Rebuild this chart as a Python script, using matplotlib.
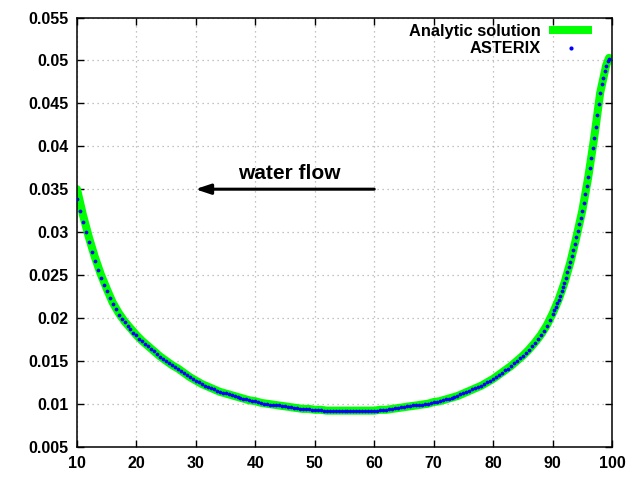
import numpy as np
import matplotlib
matplotlib.use("Agg")
import matplotlib.pyplot as plt

plt.rcParams['font.family'] = ['Liberation Sans', 'DejaVu Sans']
plt.rcParams['font.weight'] = 'bold'

# analytic solution at integer x (+ end point)
analytic_x = list(range(10, 100)) + [99.5]
analytic_y = [
    0.0350, 0.0320, 0.0294, 0.0271, 0.0251, 0.0234, 0.0218, 0.0206, 0.0196, 0.0188,  # 10-19
    0.0180, 0.0173, 0.0167, 0.0161, 0.0155, 0.0150, 0.0145, 0.0141, 0.0136, 0.0131,  # 20-29
    0.0127, 0.0123, 0.0120, 0.0117, 0.0114, 0.0112, 0.0110, 0.0108, 0.0106, 0.0104,  # 30-39
    0.0103, 0.0101, 0.0100, 0.0099, 0.0098, 0.0097, 0.0096, 0.0095, 0.0094, 0.0094,  # 40-49
    0.0093, 0.0093, 0.0092, 0.0092, 0.0092, 0.0092, 0.0092, 0.0092, 0.0092, 0.0092,  # 50-59
    0.0092, 0.0093, 0.0093, 0.0094, 0.0095, 0.0096, 0.0097, 0.0098, 0.0099, 0.0100,  # 60-69
    0.0102, 0.0103, 0.0105, 0.0107, 0.0109, 0.0112, 0.0115, 0.0118, 0.0121, 0.0125,  # 70-79
    0.0129, 0.0134, 0.0139, 0.0144, 0.0150, 0.0156, 0.0163, 0.0171, 0.0180, 0.0191,  # 80-89
    0.0205, 0.0221, 0.0241, 0.0265, 0.0294, 0.0325, 0.0364, 0.0410, 0.0462, 0.0494,  # 90-99
    0.0503,
]

# ASTERIX points: every 0.5 from 10 to 89.5, then every 0.25 from 90 to 99.5
asterix_y_coarse = [
    0.0338, 0.0325, 0.0312, 0.0300, 0.0288, 0.0277, 0.0266, 0.0256, 0.0247, 0.0238,  # 10-14.5
    0.0231, 0.0223, 0.0216, 0.0210, 0.0204, 0.0199, 0.0195, 0.0191, 0.0187, 0.0183,  # 15-19.5
    0.0180, 0.0176, 0.0173, 0.0170, 0.0167, 0.0164, 0.0161, 0.0158, 0.0155, 0.0152,  # 20-24.5
    0.0150, 0.0147, 0.0145, 0.0143, 0.0141, 0.0138, 0.0136, 0.0133, 0.0131, 0.0129,  # 25-29.5
    0.0127, 0.0125, 0.0123, 0.0121, 0.0120, 0.0118, 0.0117, 0.0115, 0.0114, 0.0113,  # 30-34.5
    0.0112, 0.0111, 0.0110, 0.0109, 0.0108, 0.0107, 0.0106, 0.0105, 0.0104, 0.0103,  # 35-39.5
    0.0103, 0.0102, 0.0101, 0.0100, 0.0100, 0.0099, 0.0099, 0.0098, 0.0098, 0.0097,  # 40-44.5
    0.0097, 0.0096, 0.0096, 0.0095, 0.0095, 0.0094, 0.0094, 0.0094, 0.0094, 0.0093,  # 45-49.5
    0.0093, 0.0093, 0.0093, 0.0092, 0.0092, 0.0092, 0.0092, 0.0092, 0.0092, 0.0092,  # 50-54.5
    0.0092, 0.0092, 0.0092, 0.0092, 0.0092, 0.0092, 0.0092, 0.0092, 0.0092, 0.0092,  # 55-59.5
    0.0092, 0.0092, 0.0093, 0.0093, 0.0093, 0.0094, 0.0094, 0.0095, 0.0095, 0.0096,  # 60-64.5
    0.0096, 0.0097, 0.0097, 0.0098, 0.0098, 0.0099, 0.0099, 0.0100, 0.0100, 0.0101,  # 65-69.5
    0.0102, 0.0102, 0.0103, 0.0104, 0.0105, 0.0106, 0.0107, 0.0108, 0.0109, 0.0111,  # 70-74.5
    0.0112, 0.0114, 0.0115, 0.0117, 0.0118, 0.0120, 0.0121, 0.0123, 0.0125, 0.0127,  # 75-79.5
    0.0129, 0.0131, 0.0134, 0.0136, 0.0139, 0.0141, 0.0144, 0.0147, 0.0150, 0.0153,  # 80-84.5
    0.0156, 0.0159, 0.0163, 0.0167, 0.0171, 0.0175, 0.0180, 0.0185, 0.0191, 0.0198,  # 85-89.5
]
asterix_y_fine = [
    0.0205, 0.0209, 0.0213, 0.0217, 0.0221, 0.0226, 0.0231, 0.0236,  # 90-91.75
    0.0241, 0.0247, 0.0253, 0.0259, 0.0265, 0.0272, 0.0279, 0.0286,  # 92-93.75
    0.0294, 0.0301, 0.0309, 0.0317, 0.0325, 0.0334, 0.0344, 0.0354,  # 94-95.75
    0.0364, 0.0375, 0.0386, 0.0398, 0.0410, 0.0423, 0.0436, 0.0449,  # 96-97.75
    0.0462, 0.0472, 0.0480, 0.0488, 0.0494, 0.0499, 0.0502,          # 98-99.5
]
asterix_x = np.concatenate([np.arange(10, 90, 0.5), np.arange(90, 99.51, 0.25)])
asterix_y = asterix_y_coarse + asterix_y_fine

xticks = np.arange(10, 101, 10)
yticks = np.arange(0.005, 0.0551, 0.005)
ytick_labels = ['0.005', '0.01', '0.015', '0.02', '0.025', '0.03',
                '0.035', '0.04', '0.045', '0.05', '0.055']

fig = plt.figure(figsize=(6.4, 4.8), dpi=100)
ax = fig.add_axes([0.1203, 0.0694, 0.9563 - 0.1203, 0.9635 - 0.0694])

ax.plot(analytic_x, analytic_y, color='#00ff00', lw=5.8,
        solid_capstyle='round', solid_joinstyle='round', label='Analytic solution', zorder=2)
ax.plot(asterix_x, asterix_y, ls='none', marker='o', ms=2.7, mew=0,
        color='#0000ff', label='ASTERIX', zorder=3)

ax.set_xlim(10, 100)
ax.set_ylim(0.005, 0.055)
ax.set_xticks(xticks)
ax.set_yticks(yticks)
ax.set_yticklabels(ytick_labels)
ax.tick_params(direction='in', length=5, width=1, top=True, right=True,
               labelsize=11.5, pad=6)
ax.tick_params(axis='x', pad=7)
for lab in ax.get_xticklabels() + ax.get_yticklabels():
    lab.set_fontweight('bold')
ax.grid(True, color='#b0b0b0', ls=(0, (1, 3)), lw=0.9)
for s in ax.spines.values():
    s.set_linewidth(1.1)

ax.annotate('', xy=(29.9, 0.035), xytext=(60, 0.035),
            arrowprops=dict(arrowstyle='-|>,head_length=0.9,head_width=0.3',
                            color='black', lw=2.2, shrinkA=0, shrinkB=0))
ax.text(45.7, 0.0368, 'water flow', ha='center', va='center',
        fontsize=15, fontweight='bold')

leg = ax.legend(loc='upper right', bbox_to_anchor=(592 / 640, 1 - 24 / 480),
                bbox_transform=fig.transFigure, frameon=False, markerfirst=False,
                handlelength=2.6, handletextpad=0.55,
                labelspacing=0.15, borderpad=0, borderaxespad=0, numpoints=1,
                prop={'weight': 'bold', 'size': 11.8})
leg.legend_handles[0].set_solid_capstyle('butt')
leg.legend_handles[1].set_markersize(3)

fig.savefig('out.png', dpi=100)
